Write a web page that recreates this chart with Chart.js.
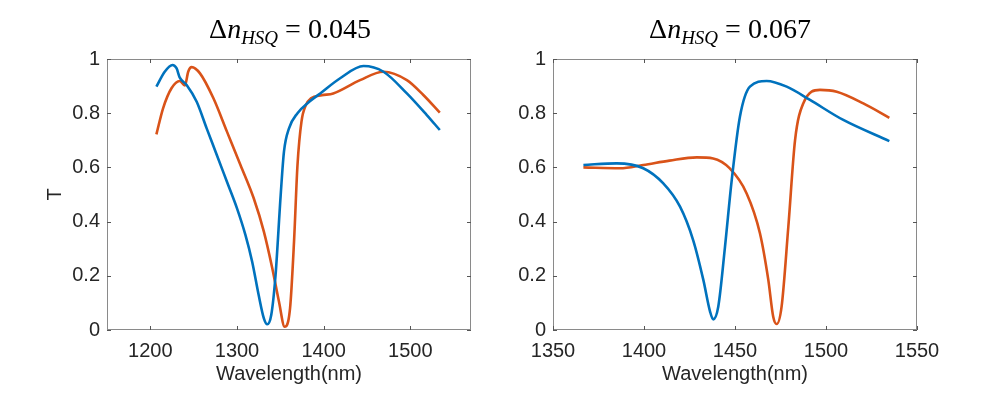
<!DOCTYPE html>
<html>
<head>
<meta charset="utf-8">
<script src="https://cdn.jsdelivr.net/npm/chart.js@4.4.1/dist/chart.umd.min.js"></script>
<style>
  body { margin: 0; background: #fff; }
  #wrap { position: relative; width: 996px; height: 399px; overflow: hidden; }
  .box { position: absolute; top: 0; width: 498px; height: 399px; }
  .title {
    position: absolute; top: 12px; transform: translateX(-50%);
    font-family: "Liberation Serif", "DejaVu Serif", serif; font-size: 28px;
    color: #000; white-space: nowrap; line-height: 34px;
  }
  .title sub { font-size: 19px; vertical-align: -6px; }
</style>
</head>
<body>
<div id="wrap">
  <div class="box" style="left:0"><canvas id="leftChart"></canvas></div>
  <div class="box" style="left:498px"><canvas id="rightChart"></canvas></div>
  <div class="title" style="left:290px">Δ<i>n</i><sub><i>HSQ</i></sub> = 0.045</div>
  <div class="title" style="left:730px">Δ<i>n</i><sub><i>HSQ</i></sub> = 0.067</div>
</div>
<script>
// Левый график: Δn = 0.045
const leftBlueWl = [1207, 1216.6, 1225.6, 1230.2, 1234, 1241.9, 1253.5, 1265, 1276.7, 1288.4, 1300, 1309.7, 1317.5, 1325, 1331, 1334.9, 1339.5, 1344.5, 1350.4, 1354.2, 1360, 1369.8, 1383.3, 1396, 1419, 1446, 1469, 1496, 1519, 1534];
const leftBlueT = [0.898, 0.953, 0.978, 0.966, 0.931, 0.904, 0.842, 0.744, 0.646, 0.547, 0.449, 0.351, 0.252, 0.129, 0.043, 0.021, 0.055, 0.203, 0.498, 0.658, 0.744, 0.80, 0.842, 0.873, 0.929, 0.974, 0.953, 0.873, 0.793, 0.738];
const leftOrangeWl = [1207, 1214.7, 1224.4, 1234, 1239.9, 1243.7, 1247.7, 1257.3, 1272.8, 1288.4, 1304, 1319.3, 1331, 1340.7, 1348.4, 1355, 1361.2, 1365.8, 1369.8, 1374.4, 1379.5, 1385.3, 1398, 1411, 1442, 1469, 1496, 1515, 1534];
const leftOrangeT = [0.722, 0.818, 0.892, 0.919, 0.902, 0.953, 0.97, 0.947, 0.855, 0.732, 0.609, 0.486, 0.363, 0.228, 0.105, 0.012, 0.080, 0.326, 0.609, 0.769, 0.830, 0.855, 0.866, 0.873, 0.922, 0.953, 0.922, 0.867, 0.802];

// Правый график: Δn = 0.067
const rightBlueWl = [1366.7, 1385, 1399.6, 1410.6, 1419.8, 1427, 1432.6, 1436.3, 1438, 1440.8, 1444.5, 1448.2, 1452.7, 1458.2, 1467.4, 1478.4, 1491.2, 1509.5, 1534.8];
const rightBlueT = [0.609, 0.615, 0.597, 0.541, 0.455, 0.332, 0.185, 0.068, 0.039, 0.086, 0.307, 0.553, 0.787, 0.898, 0.919, 0.898, 0.849, 0.775, 0.697];
const rightOrangeWl = [1366.7, 1386.8, 1399.6, 1414, 1429, 1438, 1447, 1456.4, 1463.7, 1468.3, 1471, 1472.9, 1475.6, 1479.3, 1483, 1487.5, 1496.7, 1505.9, 1520.5, 1534.8];
const rightOrangeT = [0.600, 0.597, 0.609, 0.625, 0.637, 0.633, 0.597, 0.504, 0.357, 0.185, 0.049, 0.022, 0.086, 0.381, 0.701, 0.836, 0.886, 0.879, 0.836, 0.783];

const leftXTicks = [1200, 1300, 1400, 1500];
const rightXTicks = [1350, 1400, 1450, 1500, 1550];
const yTicks = [0, 0.2, 0.4, 0.6, 0.8, 1];

const BLUE = "#0072BD";
const ORANGE = "#D95319";
const TEXT = "#262626";
const FONT = "'Liberation Sans', Arial, sans-serif";

function pts(xs, ys) {
  return xs.map((x, i) => ({ x: x, y: ys[i] }));
}

// рамка и внутренние засечки как в MATLAB
const boxPlugin = {
  id: "boxPlugin",
  afterDatasetsDraw(chart) {
    const { ctx, chartArea: a, scales } = chart;
    ctx.save();
    ctx.strokeStyle = "#8a8a8a";
    ctx.lineWidth = 1;
    ctx.strokeRect(a.left + 0.5, a.top + 0.5, a.right - a.left - 1, a.bottom - a.top - 1);
    ctx.strokeStyle = "#555";
    ctx.beginPath();
    scales.x.ticks.forEach((t) => {
      const px = Math.round(scales.x.getPixelForValue(t.value)) + 0.5;
      ctx.moveTo(px, a.bottom); ctx.lineTo(px, a.bottom - 4);
      ctx.moveTo(px, a.top); ctx.lineTo(px, a.top + 4);
    });
    scales.y.ticks.forEach((t) => {
      const py = Math.round(scales.y.getPixelForValue(t.value)) + 0.5;
      ctx.moveTo(a.left, py); ctx.lineTo(a.left + 4, py);
      ctx.moveTo(a.right, py); ctx.lineTo(a.right - 4, py);
    });
    ctx.stroke();
    ctx.restore();
  },
};

function makeChart(id, blue, orange, xMin, xMax, xTicks, yTitle, yWidth, padRight) {
  const ds = (data, color) => ({
    data: data,
    borderColor: color,
    backgroundColor: color,
    borderWidth: 2.6,
    pointRadius: 0,
    cubicInterpolationMode: "monotone",
    fill: false,
  });
  return new Chart(document.getElementById(id), {
    type: "line",
    data: { datasets: [ds(blue, BLUE), ds(orange, ORANGE)] },
    plugins: [boxPlugin],
    options: {
      responsive: true,
      maintainAspectRatio: false,
      animation: false,
      layout: { padding: { top: 59, right: padRight, bottom: 0, left: 0 } },
      plugins: { legend: { display: false }, tooltip: { enabled: false } },
      scales: {
        x: {
          type: "linear",
          min: xMin,
          max: xMax,
          grid: { display: false, drawTicks: false },
          border: { display: false },
          afterBuildTicks: (s) => { s.ticks = xTicks.map((v) => ({ value: v })); },
          afterFit: (s) => { s.height = 69; },
          ticks: {
            color: TEXT,
            font: { family: FONT, size: 20 },
            padding: 9,
            maxRotation: 0,
            callback: (v) => String(v),
          },
          title: {
            display: true,
            text: "Wavelength(nm)",
            color: TEXT,
            font: { family: FONT, size: 20 },
            padding: { top: 0, bottom: 13 },
          },
        },
        y: {
          min: 0,
          max: 1,
          grid: { display: false, drawTicks: false },
          border: { display: false },
          afterBuildTicks: (s) => { s.ticks = yTicks.map((v) => ({ value: v })); },
          afterFit: (s) => { s.width = yWidth; },
          ticks: {
            color: TEXT,
            font: { family: FONT, size: 20 },
            padding: 7,
            callback: (v) => String(v),
          },
          title: {
            display: yTitle,
            text: "T",
            color: TEXT,
            font: { family: FONT, size: 20 },
            padding: { top: 43, bottom: 0 },
          },
        },
      },
    },
  });
}

makeChart("leftChart", pts(leftBlueWl, leftBlueT), pts(leftOrangeWl, leftOrangeT),
  1150, 1570, leftXTicks, true, 107, 27);
makeChart("rightChart", pts(rightBlueWl, rightBlueT), pts(rightOrangeWl, rightOrangeT),
  1350, 1550, rightXTicks, false, 55, 79);
</script>
</body>
</html>
